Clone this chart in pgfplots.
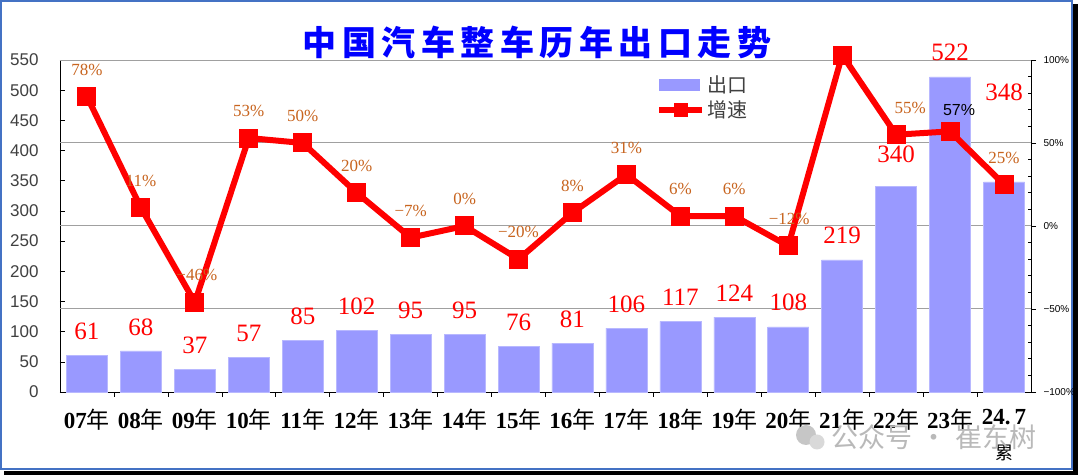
\documentclass[border=0pt]{standalone}
\usepackage{pgfplots}
\pgfplotsset{compat=1.18}
\usepackage{pgfplotstable}
\usepackage{fontspec}
\setmainfont{Liberation Serif}
\setsansfont{Liberation Sans}
\newfontfamily\cjk{Noto Sans CJK SC}
\definecolor{barc}{HTML}{9999FF}
\definecolor{barl}{HTML}{B8B8FF}
\definecolor{pctc}{HTML}{C8641E}
\definecolor{tickc}{HTML}{404040}
\definecolor{gridc}{HTML}{A0A0A0}
\definecolor{framec}{HTML}{4472C4}
\newcommand\yr[1]{\textbf{#1}{\cjk 年}}

\pgfplotstableread{
x v lab dy
0 61 61 24
1 68 68 24
2 37 37 24
3 57 57 24
4 85 85 24
5 102 102 24
6 95 95 24
7 95 95 24
8 76 76 24
9 81 81 24
10 106 106 24
11 117 117 24
12 124 124 24
13 108 108 24
14 219 219 24
15 340 340 32
16 522 522 25
17 348 348 90
}\bars

\pgfplotstableread{
x g
0 78
1 11
2 -46
3 53
4 50
5 20
6 -7
7 0
8 -20
9 8
10 31
11 6
12 6
13 -12
14 103
15 55
16 57
17 25
}\growth

\pgfplotstableread{
x g lab dx
0 78 78 0
1 11 11 0
2 -46 −46 2
3 53 53 0
4 50 50 0
5 20 20 0
6 -7 −7 0
7 0 0 0
8 -20 −20 0
9 8 8 0
10 31 31 0
11 6 6 0
12 6 6 0
13 -12 −12 1
15 55 55 14
17 25 25 0
}\glab

\begin{document}
\begin{tikzpicture}
\useasboundingbox (0,0) rectangle (1080pt,476pt);
\fill[white] (0,0) rectangle (1080pt,476pt);
% frame with shadow
\fill[black] (4pt,1pt) rectangle (1078pt,5pt);
\fill[black] (1073pt,1pt) rectangle (1078pt,472pt);
\fill[white] (0pt,7pt) rectangle (1072pt,475pt);
\draw[framec, line width=1.2pt] (1pt,7pt) rectangle (1072pt,475pt);

% bar axis
\begin{axis}[
  at={(60pt,84pt)}, anchor=south west,
  scale only axis, width=971pt, height=332pt,
  xmin=-0.5, xmax=17.5, ymin=0, ymax=550,
  clip=false,
  axis x line*=bottom, axis y line*=left,
  axis line style={black, line width=0.8pt},
  tick align=inside,
  xtick={0,...,17},
  xticklabels={\yr{07},\yr{08},\yr{09},\yr{10},\yr{11},\yr{12},\yr{13},\yr{14},\yr{15},\yr{16},\yr{17},\yr{18},\yr{19},\yr{20},\yr{21},\yr{22},\yr{23},{\textbf{24.\hspace{4pt}7}\\[9pt]{\cjk\fontsize{18}{18}\selectfont 累}}},
  major x tick style={draw=none},
  minor xtick={0.5,1.5,...,16.5},
  minor tick length=5pt,
  minor x tick style={black, line width=0.6pt},
  xticklabel style={font=\fontsize{23}{26}\selectfont, text=black, align=center, yshift=-9pt},
  ytick={0,50,...,550},
  major tick length=5pt,
  major y tick style={black, line width=0.6pt},
  yticklabel style={font=\sffamily\fontsize{17}{17}\selectfont, text=tickc, xshift=-18pt},
  /pgf/number format/assume math mode=true,
  extra y ticks={137.5,275,412.5,550},
  extra y tick labels={,,,},
  extra y tick style={grid=major, major grid style={gridc, line width=1pt}, major tick length=0pt},
  ybar, bar width=41pt,
]
\addplot[fill=barc, draw=barl, line width=0.6pt,
  point meta=explicit symbolic,
  visualization depends on={\thisrow{dy}\as\dy},
  nodes near coords={\pgfplotspointmeta},
  nodes near coords style={anchor=center, yshift=\dy pt, font=\fontsize{25}{25}\selectfont, text=red, inner sep=0pt},
] table[x=x, y=v, meta=lab] {\bars};
\end{axis}

% growth axis
\begin{axis}[
  at={(60pt,84pt)}, anchor=south west,
  scale only axis, width=971pt, height=332pt,
  xmin=-0.5, xmax=17.5, ymin=-100, ymax=100,
  clip=false,
  axis x line=none, axis y line*=right,
  axis line style={black, line width=0.8pt},
  tick align=outside,
  ytick={-100,-50,0,50,100},
  yticklabels={−100\%,−50\%,0\%,50\%,100\%},
  yticklabel style={font=\sffamily\fontsize{10}{10}\selectfont, text=black, xshift=4pt},
  minor y tick num=4,
  major tick length=5pt, minor tick length=3pt,
  major y tick style={black, line width=0.6pt},
  minor y tick style={black, line width=0.6pt, xshift=-3pt},
  legend style={at={(0.611,0.966)}, anchor=north west, draw=none, fill=none,
     font=\cjk\fontsize{20}{20}\selectfont, text=tickc, row sep=3pt,
     /tikz/every even column/.append style={column sep=4pt}},
  legend cell align=left,
]
\addlegendimage{legend image code/.code={\fill[barc] (0pt,-5.5pt) rectangle (40pt,5.5pt);}}
\addlegendentry{出口}
\addlegendimage{legend image code/.code={\draw[red,line width=6pt] (0pt,0pt)--(43pt,0pt); \fill[red] (15pt,-6.5pt) rectangle (28pt,6.5pt);}}
\addlegendentry{增速}

\addplot[forget plot, red, line width=6pt, mark=square*, mark size=6.5pt, mark options={solid}] table[x=x, y=g] {\growth};

\addplot[forget plot, draw=none, mark=none,
  point meta=explicit symbolic,
  visualization depends on={\thisrow{dx}\as\dx},
  nodes near coords={\pgfplotspointmeta\%},
  nodes near coords style={anchor=center, yshift=27pt, xshift=\dx pt, font=\fontsize{17}{17}\selectfont, text=pctc, inner sep=0pt},
] table[x=x, y=g, meta=lab] {\glab};

\addplot[forget plot, draw=none, mark=none,
  nodes near coords={57\%},
  nodes near coords style={anchor=center, yshift=21pt, xshift=9pt, font=\sffamily\fontsize{16}{16}\selectfont, text=black, inner sep=0pt},
] coordinates {(16,57)};
\end{axis}

% title
\node[text=blue, font=\cjk\bfseries\fontsize{34}{34}\selectfont] at (537pt,434pt)
  {中\hspace{5.5pt}国\hspace{5.5pt}汽\hspace{5.5pt}车\hspace{5.5pt}整\hspace{5.5pt}车\hspace{5.5pt}历\hspace{5.5pt}年\hspace{5.5pt}出\hspace{5.5pt}口\hspace{5.5pt}走\hspace{5.5pt}势};

% watermark
\fill[gray!45] (806pt,41pt) circle (10pt);
\fill[gray!30] (817pt,34pt) circle (7.5pt);
\node[text=gray!55, font=\cjk\fontsize{27}{27}\selectfont, anchor=west] at (828pt,39pt) {公众号\hspace{8pt}·\hspace{8pt}崔东树};
\end{tikzpicture}
\end{document}
